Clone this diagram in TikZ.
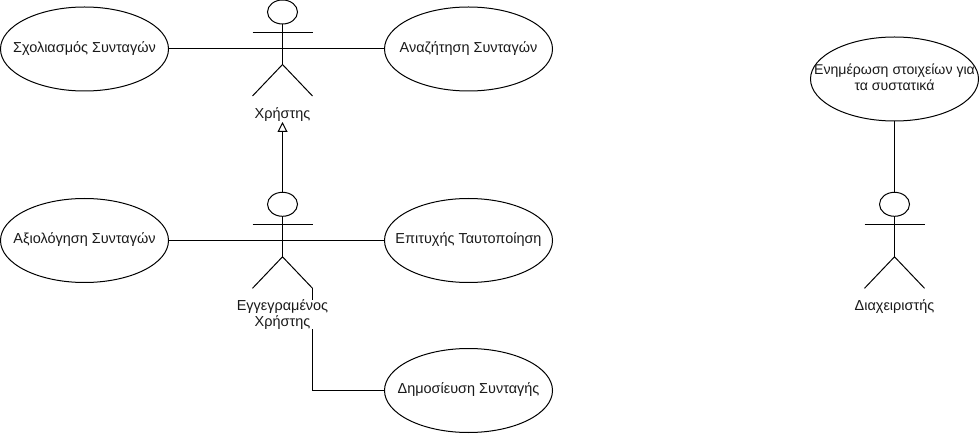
\documentclass[tikz,border=0pt]{standalone}
\usepackage{fontspec}
\setmainfont{Liberation Sans}
\usetikzlibrary{shapes.geometric,arrows.meta}
\tikzset{
  usecase/.style={draw=black,ellipse,line width=0.75pt,minimum width=126pt,minimum height=63pt,inner sep=0pt,font=\fontsize{10.85pt}{12pt}\selectfont,text=black!90},
  widecase/.style={usecase,font=\fontsize{10.6pt}{12pt}\selectfont},
  head/.style={draw=black,ellipse,line width=0.75pt,minimum width=22.5pt,minimum height=18pt,inner sep=0pt},
  actorlabel/.style={align=center,inner sep=0pt,font=\fontsize{10.85pt}{12pt}\selectfont,text=black!90},
  link/.style={line width=0.75pt,draw=black},
  inherit/.style={line width=0.75pt,draw=black,-{Triangle[open,fill=white,length=7.5pt,width=7.5pt]}}
}
\newcommand{\uctext}[1]{\raisebox{-0.75pt}{\makebox[0pt]{\begin{tabular}{@{}c@{}}#1\end{tabular}}}}
\newcommand{\stick}[3]{% name, x, head y
  \node[head] (#1head) at (#2,#3) {};
  \coordinate (#1hub) at (#2,#3+52.5);
  \coordinate (#1la) at (#2-30,#3+20.3);
  \coordinate (#1ra) at (#2+30,#3+20.3);
  \coordinate (#1ll) at (#2-30,#3+84);
  \coordinate (#1rl) at (#2+30,#3+84);
  \coordinate (#1mid) at (#2,#3+36.5);
  \draw[link] (#1head.south) -- (#1hub);
  \draw[link] (#1la) -- (#1ra);
  \draw[link] (#1ll) -- (#1hub) -- (#1rl);
}
\begin{document}
\begin{tikzpicture}[x=0.75pt,y=-0.75pt]
\useasboundingbox (0,0) rectangle (980,434);
\node[usecase] (sx) at (84.5,49) {\uctext{Σχολιασμός Συνταγών}};
\node[usecase] (an) at (468.5,49) {\uctext{Αναζήτηση Συνταγών}};
\node[usecase] (ax) at (84.5,240.5) {\uctext{Αξιολόγηση Συνταγών}};
\node[usecase] (ep) at (468.5,240.5) {\uctext{Επιτυχής Ταυτοποίηση}};
\node[usecase] (di) at (468.5,390.5) {\uctext{Δημοσίευση Συνταγής}};
\node[widecase] (en) at (894.5,79) {\uctext{Ενημέρωση στοιχείων για\\τα συστατικά}};
\stick{u}{282.5}{12}
\stick{r}{282.5}{204.3}
\stick{d}{894.5}{204.3}
\draw[link] (sx.east) -- (umid |- sx.east);
\draw[link] (umid |- sx.east) -- (an.west);
\draw[link] (ax.east) -- (rmid |- ax.east);
\draw[link] (rmid |- ax.east) -- (ep.west);
\draw[link] (en.south) -- (dhead.north);
\draw[link] (rrl) -- (rrl |- di.west) -- (di.west);
\node[actorlabel] (ul) at (282.5,114.5) {Χρήστης};
\node[actorlabel,fill=white] (rl) at (282.5,314.5) {Εγγεγραμένος\\Χρήστης};
\node[actorlabel] (dl) at (894.5,306.5) {Διαχειριστής};
\coordinate (tip) at (282.5,122);
\draw[inherit] (rhead.north) -- (tip);
\end{tikzpicture}
\end{document}
